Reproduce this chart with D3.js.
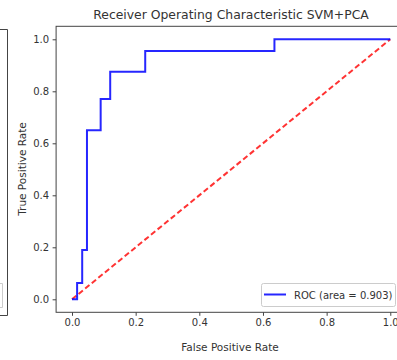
<!DOCTYPE html>
<html>
<head>
<meta charset="utf-8">
<script src="https://cdn.jsdelivr.net/npm/d3@7"></script>
<style>
  body { margin: 0; background: #fff; }
  svg { display: block; font-family: "DejaVu Sans", sans-serif; }
</style>
</head>
<body>
<svg id="chart" width="397" height="360"></svg>
<script>
// roc curve
var fpr = [0, 0.016, 0.016, 0.032, 0.032, 0.047, 0.047, 0.09, 0.09, 0.12, 0.12, 0.23, 0.23, 0.636, 0.636, 1.0];
var tpr = [0, 0, 0.0625, 0.0625, 0.19, 0.19, 0.65, 0.65, 0.77, 0.77, 0.875, 0.875, 0.955, 0.955, 1.0, 1.0];
var chanceLine = [0, 1];
var tickValues = [0, 0.2, 0.4, 0.6, 0.8, 1.0];
var rocArea = 0.903;

var svg = d3.select("#chart");

var x = d3.scaleLinear().domain([-0.05, 1.05]).range([56.1, 406.2]);
var y = d3.scaleLinear().domain([-0.05, 1.05]).range([312.3, 26.3]);

// leftover frame of the neighbouring subplot
svg.append("path")
    .attr("d", "M0,29.5H7.5V315.5H0")
    .attr("fill", "none")
    .attr("stroke", "#444")
    .attr("stroke-width", 1);
svg.append("path")
    .attr("d", "M0,283.5H2.5V307.5H0")
    .attr("fill", "none")
    .attr("stroke", "#ccc")
    .attr("stroke-width", 1);

// chance diagonal
svg.append("line")
    .attr("x1", x(chanceLine[0])).attr("y1", y(chanceLine[0]))
    .attr("x2", x(chanceLine[1])).attr("y2", y(chanceLine[1]))
    .attr("stroke", "red")
    .attr("stroke-opacity", 0.8)
    .attr("stroke-width", 2)
    .attr("stroke-dasharray", "5.5,3");

var line = d3.line()
    .x(function (d, i) { return x(fpr[i]); })
    .y(function (d, i) { return y(tpr[i]); });

svg.append("path")
    .datum(fpr)
    .attr("d", line)
    .attr("fill", "none")
    .attr("stroke", "blue")
    .attr("stroke-opacity", 0.85)
    .attr("stroke-width", 2);

// axes
var xAxis = d3.axisBottom(x).tickValues(tickValues).tickFormat(d3.format(".1f")).tickSize(3.5).tickPadding(3.5);
var yAxis = d3.axisLeft(y).tickValues(tickValues).tickFormat(d3.format(".1f")).tickSize(3.5).tickPadding(3.5);

var gx = svg.append("g").attr("transform", "translate(0," + y(-0.05) + ")").call(xAxis);
var gy = svg.append("g").attr("transform", "translate(" + x(-0.05) + ",0)").call(yAxis);

[gx, gy].forEach(function (g) {
    g.select(".domain").remove();
    g.selectAll(".tick line").attr("stroke", "#444");
    g.selectAll(".tick text")
        .attr("fill", "#333")
        .style("font-family", "DejaVu Sans")
        .style("font-size", "10px");
});

// frame
svg.append("rect")
    .attr("x", x(-0.05)).attr("y", y(1.05))
    .attr("width", x(1.05) - x(-0.05))
    .attr("height", y(-0.05) - y(1.05))
    .attr("fill", "none")
    .attr("stroke", "#444")
    .attr("stroke-width", 1);

// labels
svg.append("text")
    .attr("x", 231).attr("y", 19)
    .attr("text-anchor", "middle")
    .attr("fill", "#333")
    .style("font-size", "12.4px")
    .text("Receiver Operating Characteristic SVM+PCA");

svg.append("text")
    .attr("x", 230).attr("y", 351)
    .attr("text-anchor", "middle")
    .attr("fill", "#333")
    .style("font-size", "10.5px")
    .text("False Positive Rate");

svg.append("text")
    .attr("transform", "translate(26,169) rotate(-90)")
    .attr("text-anchor", "middle")
    .attr("fill", "#333")
    .style("font-size", "10.5px")
    .text("True Positive Rate");

// legend
var legend = svg.append("g");
legend.append("rect")
    .attr("x", 261.5).attr("y", 283.5)
    .attr("width", 134).attr("height", 23)
    .attr("rx", 2)
    .attr("fill", "#fff")
    .attr("fill-opacity", 0.8)
    .attr("stroke", "#ccc");
legend.append("line")
    .attr("x1", 264).attr("x2", 286)
    .attr("y1", 294.5).attr("y2", 294.5)
    .attr("stroke", "blue")
    .attr("stroke-opacity", 0.85)
    .attr("stroke-width", 2);
legend.append("text")
    .attr("x", 294).attr("y", 298.5)
    .attr("fill", "#333")
    .style("font-size", "10px")
    .text("ROC (area = " + rocArea.toFixed(3) + ")");
</script>
</body>
</html>
